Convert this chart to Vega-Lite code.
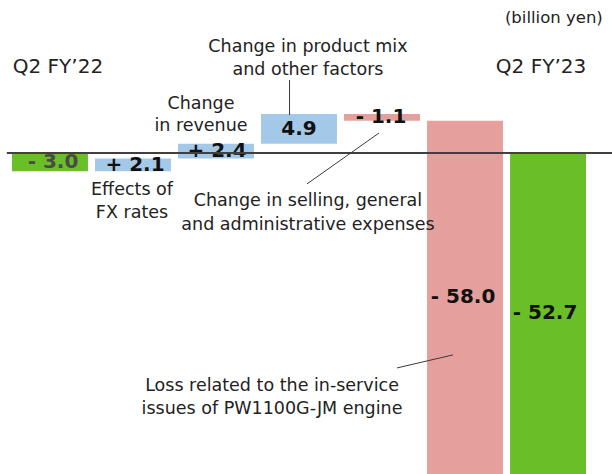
{
  "$schema": "https://vega.github.io/schema/vega-lite/v6.json",
  "width": 612,
  "height": 474,
  "autosize": {"type": "fit", "contains": "padding"},
  "padding": 0,
  "background": "white",
  "config": {"view": {"stroke": null}, "text": {"font": "DejaVu Sans"}},
  "resolve": {"scale": {"x": "independent"}},
  "layer": [
    {
      "data": {"name": "bars", "values": [
        {"cat": "Q2 FY'22", "start": 0, "end": -3.0, "kind": "total", "label": "- 3.0"},
        {"cat": "Effects of FX rates", "start": -3.0, "end": -0.9, "kind": "up", "label": "+ 2.1"},
        {"cat": "Change in revenue", "start": -0.9, "end": 1.5, "kind": "up", "label": "+ 2.4"},
        {"cat": "Change in product mix and other factors", "start": 1.5, "end": 6.4, "kind": "up", "label": "4.9"},
        {"cat": "Change in SG&A expenses", "start": 6.4, "end": 5.3, "kind": "down", "label": "- 1.1"},
        {"cat": "Loss related to PW1100G-JM engine", "start": 5.3, "end": -52.7, "kind": "down", "label": "- 58.0"},
        {"cat": "Q2 FY'23", "start": 0, "end": -52.7, "kind": "total", "label": "- 52.7"}
      ]},
      "mark": {"type": "bar", "clip": true},
      "encoding": {
        "x": {"field": "cat", "type": "nominal", "sort": null, "axis": null,
              "scale": {"range": [12, 586], "paddingInner": 0.085, "paddingOuter": 0}},
        "y": {"field": "start", "type": "quantitative", "axis": null,
              "scale": {"domain": [-52.7, 25.1], "nice": false, "zero": false}},
        "y2": {"field": "end"},
        "color": {"field": "kind", "type": "nominal", "legend": null,
                  "scale": {"domain": ["total", "up", "down"], "range": ["#6abe28", "#a4c8e8", "#e5a09d"]}}
      }
    },
    {
      "data": {"name": "bars"},
      "transform": [{"calculate": "(datum.start + datum.end) / 2", "as": "mid"}],
      "mark": {"type": "text", "fontWeight": "bold", "fontSize": 20, "align": "center", "baseline": "middle"},
      "encoding": {
        "x": {"field": "cat", "type": "nominal", "sort": null, "axis": null,
              "scale": {"range": [12, 586], "paddingInner": 0.085, "paddingOuter": 0}},
        "y": {"field": "mid", "type": "quantitative", "axis": null,
              "scale": {"domain": [-52.7, 25.1], "nice": false, "zero": false}},
        "text": {"field": "label"},
        "color": {"condition": {"test": "datum.cat === \"Q2 FY'22\"", "value": "#4a4a4a"}, "value": "#111111"}
      }
    },
    {
      "data": {"values": [{"x": -0.02, "x2": 7.3, "y": 0}]},
      "mark": {"type": "rule", "stroke": "#404040", "strokeWidth": 2},
      "encoding": {
        "x": {"field": "x", "type": "quantitative", "axis": null,
              "scale": {"domain": [0, 7], "range": [8.5, 589.5], "nice": false, "zero": false}},
        "x2": {"field": "x2"},
        "y": {"field": "y", "type": "quantitative", "axis": null,
              "scale": {"domain": [-52.7, 25.1], "nice": false, "zero": false}}
      }
    },
    {
      "data": {"values": [
        {"x": 3.386, "y": 11.96, "x2": 3.386, "y2": 6.22},
        {"x": 4.464, "y": 3.27, "x2": 3.596, "y2": -5.09},
        {"x": 4.681, "y": -35.29, "x2": 5.355, "y2": -33.15}
      ]},
      "mark": {"type": "rule", "stroke": "#3a3a3a", "strokeWidth": 1},
      "encoding": {
        "x": {"field": "x", "type": "quantitative", "axis": null,
              "scale": {"domain": [0, 7], "range": [8.5, 589.5], "nice": false, "zero": false}},
        "x2": {"field": "x2"},
        "y": {"field": "y", "type": "quantitative", "axis": null,
              "scale": {"domain": [-52.7, 25.1], "nice": false, "zero": false}},
        "y2": {"field": "y2"}
      }
    },
    {
      "data": {"values": [
        {"x": 3.608, "y": 17.38, "t": "Change in product mix"},
        {"x": 3.608, "y": 13.6, "t": "and other factors"},
        {"x": 2.319, "y": 8.03, "t": "Change"},
        {"x": 2.319, "y": 4.41, "t": "in revenue"},
        {"x": 1.488, "y": -6.09, "t": "Effects of"},
        {"x": 1.488, "y": -9.86, "t": "FX rates"},
        {"x": 3.608, "y": -7.9, "t": "Change in selling, general"},
        {"x": 3.608, "y": -11.83, "t": "and administrative expenses"},
        {"x": 3.175, "y": -38.26, "t": "Loss related to the in-service"},
        {"x": 3.175, "y": -42.03, "t": "issues of PW1100G-JM engine"}
      ]},
      "mark": {"type": "text", "fontSize": 17.5, "align": "center", "baseline": "middle", "color": "#222222"},
      "encoding": {
        "x": {"field": "x", "type": "quantitative", "axis": null,
              "scale": {"domain": [0, 7], "range": [8.5, 589.5], "nice": false, "zero": false}},
        "y": {"field": "y", "type": "quantitative", "axis": null,
              "scale": {"domain": [-52.7, 25.1], "nice": false, "zero": false}},
        "text": {"field": "t"}
      }
    },
    {
      "data": {"values": [
        {"x": 0.596, "y": 14.1, "t": "Q2 FY’22"},
        {"x": 6.416, "y": 14.1, "t": "Q2 FY’23"}
      ]},
      "mark": {"type": "text", "fontSize": 20, "align": "center", "baseline": "middle", "color": "#222222"},
      "encoding": {
        "x": {"field": "x", "type": "quantitative", "axis": null,
              "scale": {"domain": [0, 7], "range": [8.5, 589.5], "nice": false, "zero": false}},
        "y": {"field": "y", "type": "quantitative", "axis": null,
              "scale": {"domain": [-52.7, 25.1], "nice": false, "zero": false}},
        "text": {"field": "t"}
      }
    },
    {
      "data": {"values": [{"x": 7.16, "y": 22.14, "t": "(billion yen)"}]},
      "mark": {"type": "text", "fontSize": 16.5, "align": "right", "baseline": "middle", "color": "#222222"},
      "encoding": {
        "x": {"field": "x", "type": "quantitative", "axis": null,
              "scale": {"domain": [0, 7], "range": [8.5, 589.5], "nice": false, "zero": false}},
        "y": {"field": "y", "type": "quantitative", "axis": null,
              "scale": {"domain": [-52.7, 25.1], "nice": false, "zero": false}},
        "text": {"field": "t"}
      }
    }
  ]
}
